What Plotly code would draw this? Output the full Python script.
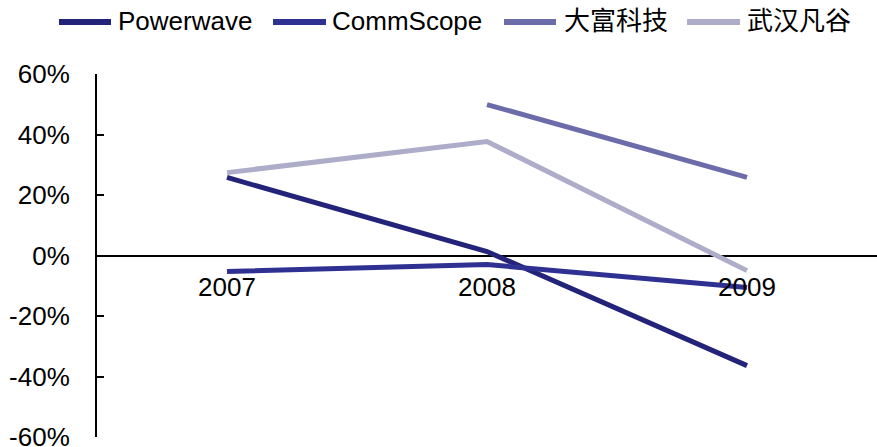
import plotly.graph_objects as go

years = ["2007", "2008", "2009"]
powerwave = [25.8, 1.3, -36.4]
commscope = [-5.3, -3.0, -10.6]
dafu = [None, 49.9, 25.8]
wuhan = [27.4, 37.7, -5.0]

names = ["Powerwave", "CommScope", "大富科技", "武汉凡谷"]
colors = ["#23237A", "#2E3192", "#6C6CAB", "#ADADCA"]
series = [powerwave, commscope, dafu, wuhan]
y_ticks = [-60, -40, -20, 0, 20, 40, 60]
y_tick_labels = [f"{v}%" for v in y_ticks]

FONT = "Arial, 'Liberation Sans', 'Noto Sans CJK SC', sans-serif"
FS = 26

# layout geometry (pixels)
W, H = 877, 447
ML, MR, MT, MB = 97, 0, 74, 10
PW, PH = W - ML - MR, H - MT - MB


def px_x(p):
    return (p - ML) / PW


def px_y(p):
    return (H - MB - p) / PH


# legend entry positions (pixels): line start, line end, text start
legend_pos = [(57, 113, 117), (271, 328, 331), (502, 558, 563), (685, 742, 746)]
legend_y = 22

fig = go.Figure()
for n, c, s in zip(names, colors, series):
    fig.add_trace(go.Scatter(x=years, y=s, name=n, mode="lines",
                             line=dict(color=c, width=5), connectgaps=False,
                             showlegend=False))

for i, yr in enumerate(years):
    fig.add_annotation(x=i, y=0, xref="x", yref="y", text=yr, showarrow=False,
                       yanchor="top", yshift=-14, font=dict(size=FS, color="#000", family=FONT))

for (x0, x1, xt), n, c in zip(legend_pos, names, colors):
    fig.add_shape(type="line", xref="paper", yref="paper",
                  x0=px_x(x0 + 2), x1=px_x(x1 - 2), y0=px_y(legend_y), y1=px_y(legend_y),
                  line=dict(color=c, width=6))
    fig.add_annotation(x=px_x(xt), y=px_y(legend_y - 1), xref="paper", yref="paper",
                       text=n, showarrow=False, xanchor="left", yanchor="middle",
                       borderpad=0, font=dict(size=FS, color="#000", family=FONT))

fig.update_layout(
    width=W, height=H,
    margin=dict(l=ML, r=MR, t=MT, b=MB, autoexpand=False),
    paper_bgcolor="white", plot_bgcolor="white",
    font=dict(family=FONT, size=FS, color="#000"),
    showlegend=False,
    xaxis=dict(type="category", range=[-0.5, 2.5], showticklabels=False, showline=False,
               showgrid=False, zeroline=False, ticks="", automargin=False),
    yaxis=dict(range=[-60, 60], tickvals=y_ticks, ticktext=y_tick_labels, showgrid=False,
               showline=True, linecolor="#000", linewidth=2, ticks="inside", ticklen=7,
               tickcolor="#000", tickwidth=2, zeroline=True, zerolinecolor="#000",
               zerolinewidth=1.5, ticklabelstandoff=20, tickfont=dict(size=FS),
               ticklabeloverflow="allow", automargin=False),
)

fig.write_html("out.html")
